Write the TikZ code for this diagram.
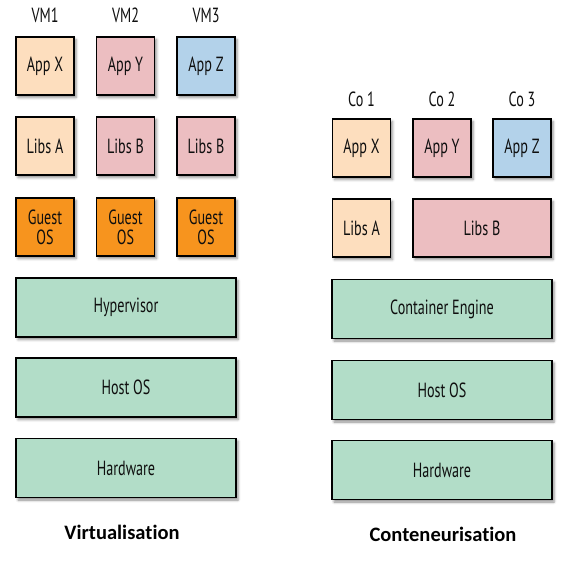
\documentclass[tikz,border=0pt]{standalone}
\usepackage{fontspec}
\setmainfont[FakeStretch=0.69]{PT Sans}
\newfontfamily\labelfont[Ligatures=NoCommon]{Carlito}
\usetikzlibrary{shadows.blur}
\definecolor{peach}{RGB}{253,222,190}
\definecolor{pinkb}{RGB}{236,190,193}
\definecolor{blueb}{RGB}{179,210,234}
\definecolor{orangeb}{RGB}{247,148,30}
\definecolor{greenb}{RGB}{178,221,200}
\definecolor{txt}{RGB}{15,15,15}
\begin{document}
\begin{tikzpicture}[x=1pt,y=-1pt,
  box/.style={draw=black, line width=1.4pt, inner sep=0pt, text=txt,
    font=\fontsize{20.5}{20}\selectfont, align=center,
    blur shadow={shadow xshift=2pt, shadow yshift=-2.5pt, shadow blur radius=2.5pt, shadow opacity=45}},
  sq/.style={box, minimum width=58pt, minimum height=58pt},
  wide/.style={box, minimum width=220pt, minimum height=59pt},
  head/.style={text=txt, font=\fontsize{20.5}{20}\selectfont},
  title/.style={font=\labelfont\bfseries\fontsize{20.5}{22}\selectfont, text=black}]
\useasboundingbox (0,0) rectangle (581,562);
% Virtualisation
\node[head] (vm1) at (45,15) {VM1};
\node[head] (vm2) at (125.5,15) {VM2};
\node[head] (vm3) at (206,15) {VM3};
\node[sq, fill=peach] (vax) at (45,66) {App X};
\node[sq, fill=pinkb] (vay) at (125.5,66) {App Y};
\node[sq, fill=blueb] (vaz) at (206,66) {App Z};
\node[sq, fill=peach] (vla) at (45,146) {Libs A};
\node[sq, fill=pinkb] (vlb1) at (125.5,146) {Libs B};
\node[sq, fill=pinkb] (vlb2) at (206,146) {Libs B};
\node[sq, fill=orangeb] (vg1) at (45,227) {Guest\\OS};
\node[sq, fill=orangeb] (vg2) at (125.5,227) {Guest\\OS};
\node[sq, fill=orangeb] (vg3) at (206,227) {Guest\\OS};
\node[wide, fill=greenb] (hyp) at (126,307.5) {Hypervisor};
\node[wide, fill=greenb] (vhost) at (126,387.5) {Host OS};
\node[wide, fill=greenb] (vhw) at (126,468) {Hardware};
\node[title] (virt) at (122,532) {Virtualisation};
% Conteneurisation
\node[head] (co1) at (361.5,99) {Co 1};
\node[head] (co2) at (442,99) {Co 2};
\node[head] (co3) at (522,99) {Co 3};
\node[sq, fill=peach] (cax) at (361.5,148) {App X};
\node[sq, fill=pinkb] (cay) at (442,148) {App Y};
\node[sq, fill=blueb] (caz) at (522,148) {App Z};
\node[sq, fill=peach] (cla) at (361.5,228) {Libs A};
\node[box, fill=pinkb, minimum width=138pt, minimum height=58pt] (clb) at (482,228) {Libs B};
\node[wide, fill=greenb] (ce) at (442,309) {Container Engine};
\node[wide, fill=greenb] (chost) at (442,390) {Host OS};
\node[wide, fill=greenb] (chw) at (442,470) {Hardware};
\node[title] (cont) at (443,534) {Conteneurisation};
\end{tikzpicture}
\end{document}
